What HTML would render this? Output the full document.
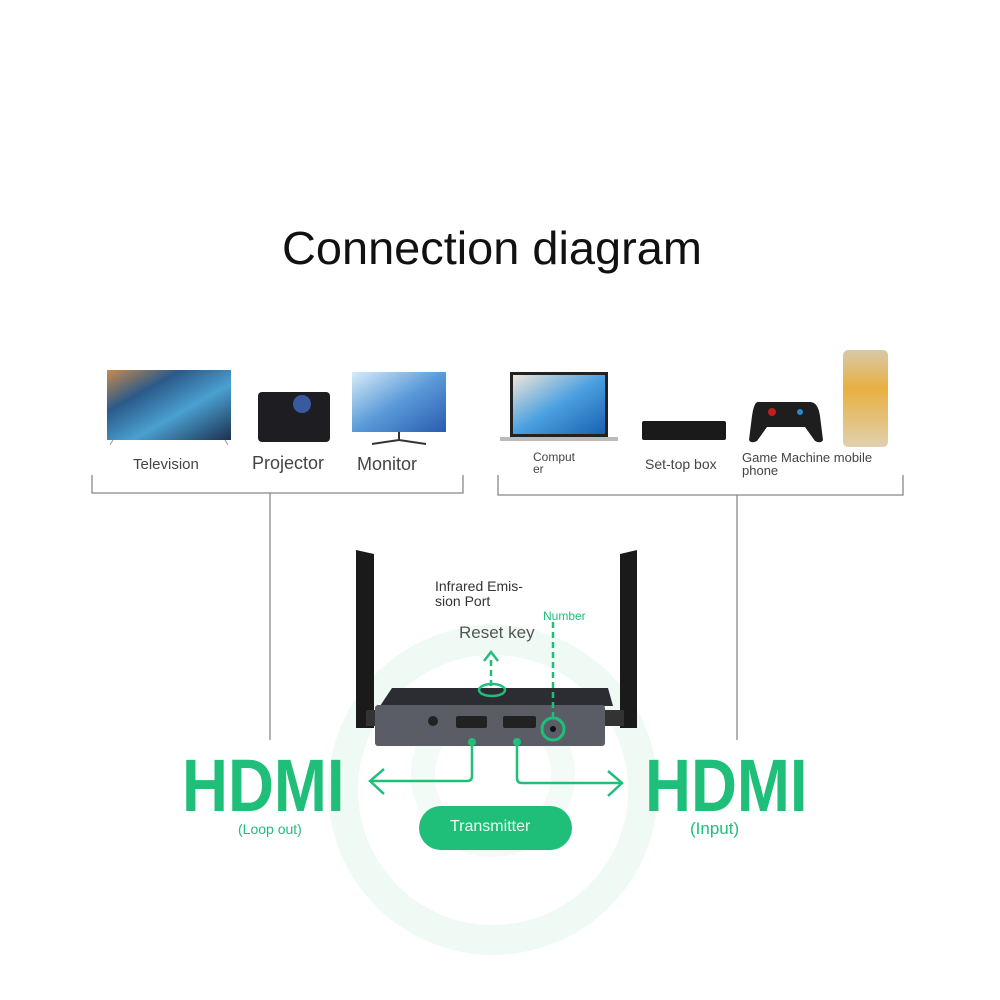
<!DOCTYPE html>
<html><head><meta charset="utf-8"><style>
html,body{margin:0;padding:0;background:#fff}
body{width:1000px;height:1000px;position:relative;overflow:hidden;font-family:"Liberation Sans",sans-serif}
.t{position:absolute;white-space:nowrap;color:#444}
</style></head><body>
<svg width="1000" height="1000" style="position:absolute;left:0;top:0">
<defs>
<linearGradient id="tv" x1="0" y1="0" x2="1" y2="1"><stop offset="0" stop-color="#c98a4a"/><stop offset=".3" stop-color="#2a5a8a"/><stop offset=".6" stop-color="#4aa0d0"/><stop offset="1" stop-color="#1c3050"/></linearGradient>
<linearGradient id="mon" x1="0" y1="0" x2="1" y2="1"><stop offset="0" stop-color="#d8ecf8"/><stop offset=".5" stop-color="#5a9ad8"/><stop offset="1" stop-color="#2a5ab0"/></linearGradient>
<linearGradient id="lap" x1="0" y1="0" x2="1" y2="1"><stop offset="0" stop-color="#f0e6d8"/><stop offset=".5" stop-color="#4aa0e0"/><stop offset="1" stop-color="#1a60b0"/></linearGradient>
<linearGradient id="ph" x1="0" y1="0" x2="0" y2="1"><stop offset="0" stop-color="#d8c8a8"/><stop offset=".4" stop-color="#e8b040"/><stop offset="1" stop-color="#e0d0b0"/></linearGradient>
</defs>
<!-- rings -->
<circle cx="493" cy="790" r="150" fill="none" stroke="#f0faf4" stroke-width="30"/>
<circle cx="493" cy="775" r="70" fill="none" stroke="#f3fbf6" stroke-width="24"/>
<!-- brackets -->
<g stroke="#888" stroke-width="1.3" fill="none">
<path d="M92 475V493H463V475"/><path d="M270 493V740"/>
<path d="M498 475V495H903V475"/><path d="M737 495V740"/>
</g>
<!-- TV -->
<rect x="107" y="370" width="124" height="70" fill="url(#tv)"/>
<path d="M113 440l-3 5M225 440l3 5" stroke="#999"/>
<!-- projector -->
<rect x="258" y="392" width="72" height="50" rx="4" fill="#1e1e22"/>
<circle cx="302" cy="404" r="9" fill="#3a5aa0"/>
<!-- monitor -->
<rect x="352" y="372" width="94" height="60" fill="url(#mon)"/>
<path d="M399 432V440M372 444L399 440L426 444" stroke="#333" stroke-width="2" fill="none"/>
<!-- laptop -->
<rect x="510" y="372" width="98" height="65" fill="#222"/><rect x="513" y="375" width="92" height="59" fill="url(#lap)"/>
<rect x="500" y="437" width="118" height="4" fill="#bbb"/>
<!-- set-top -->
<rect x="642" y="421" width="84" height="19" rx="2" fill="#1a1a1a"/>
<!-- gamepad -->
<path d="M758 402h52q8 0 10 14l3 24q-2 4-8 1l-10-14h-38l-10 14q-6 3-8-1l3-24q2-14 6-14z" fill="#1e1e1e"/>
<circle cx="772" cy="412" r="4" fill="#c02020"/><circle cx="800" cy="412" r="3" fill="#2a8ad0"/>
<!-- phone -->
<rect x="843" y="350" width="45" height="97" rx="5" fill="url(#ph)"/>
<!-- antennas -->
<path d="M356 550l18 4V728h-18z" fill="#1a1a1a"/>
<path d="M637 550l-17 4V728h17z" fill="#1a1a1a"/>
<rect x="366" y="710" width="20" height="16" fill="#333"/><rect x="600" y="710" width="24" height="16" fill="#333"/>
<!-- body -->
<path d="M392 688H608L613 706H380Z" fill="#2c2d33"/>
<rect x="375" y="705" width="230" height="41" rx="3" fill="#5b5d66"/>
<circle cx="433" cy="721" r="5" fill="#222"/>
<rect x="456" y="716" width="31" height="12" rx="2" fill="#222"/>
<rect x="503" y="716" width="33" height="12" rx="2" fill="#222"/>
<circle cx="553" cy="729" r="11" fill="none" stroke="#1fbf7a" stroke-width="3"/>
<circle cx="553" cy="729" r="3" fill="#111"/>
<ellipse cx="492" cy="690" rx="13" ry="6" fill="none" stroke="#1fbf7a" stroke-width="2.5"/>
<g stroke="#1fbf7a" stroke-width="2.5" fill="none">
<path d="M553 622V718" stroke-dasharray="6 4"/>
<path d="M491 686V658" stroke-dasharray="6 4"/>
<path d="M484 661L491 652L498 661"/>
<path d="M472 742V776q0 5-5 5H372"/><path d="M384 769L370 781L384 794"/>
<path d="M517 742V778q0 5 5 5H621"/><path d="M608 771L622 783L608 796"/>
</g>
<circle cx="472" cy="742" r="4" fill="#1fbf7a"/><circle cx="517" cy="742" r="4" fill="#1fbf7a"/>
<rect x="419" y="806" width="153" height="44" rx="22" fill="#1fbf7a"/>
</svg>
<div class="t" style="left:282px;top:221px;font-size:46px;color:#111;transform:scaleX(1.02);transform-origin:0 0">Connection diagram</div>
<div class="t" style="left:133px;top:456px;font-size:15px">Television</div>
<div class="t" style="left:252px;top:453px;font-size:18px">Projector</div>
<div class="t" style="left:357px;top:454px;font-size:18px">Monitor</div>
<div class="t" style="left:533px;top:451px;font-size:12px;line-height:12px">Comput<br>er</div>
<div class="t" style="left:645px;top:456px;font-size:14px">Set-top box</div>
<div class="t" style="left:742px;top:451px;font-size:13px;line-height:13px">Game Machine mobile<br>phone</div>
<div class="t" style="left:435px;top:579px;font-size:14px;line-height:15px;color:#333">Infrared Emis-<br>sion Port</div>
<div class="t" style="left:459px;top:623px;font-size:17px;color:#555">Reset key</div>
<div class="t" style="left:543px;top:609px;font-size:12px;color:#1fbf7a">Number</div>
<div class="t" style="left:182px;top:743px;font-size:74px;font-weight:bold;color:#1fbf7a;transform:scaleX(.86);transform-origin:0 0">HDMI</div>
<div class="t" style="left:645px;top:743px;font-size:74px;font-weight:bold;color:#1fbf7a;transform:scaleX(.86);transform-origin:0 0">HDMI</div>
<div class="t" style="left:238px;top:821px;font-size:14px;color:#1fbf7a">(Loop out)</div>
<div class="t" style="left:690px;top:819px;font-size:17px;color:#1fbf7a">(Input)</div>
<div class="t" style="left:450px;top:818px;font-size:16px;color:#e8fff2">Transmitter</div>
</body></html>
